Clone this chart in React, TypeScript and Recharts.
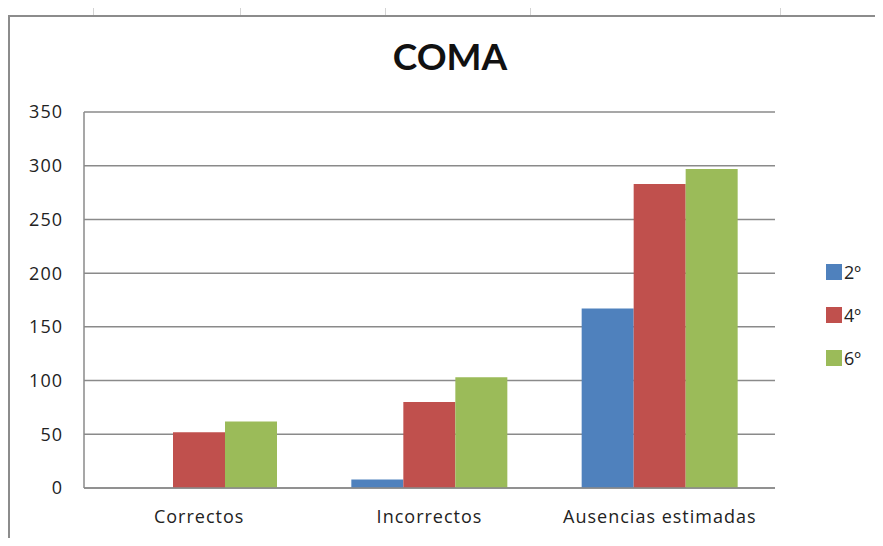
import React from "react";
import {
  BarChart,
  Bar,
  XAxis,
  YAxis,
  CartesianGrid,
  Legend,
} from "recharts";

// categories and series
const categories = ["Correctos", "Incorrectos", "Ausencias estimadas"];
const seg2 = [0, 8, 167];
const seg4 = [52, 80, 283];
const seg6 = [62, 103, 297];
const yTicks = [0, 50, 100, 150, 200, 250, 300, 350];

const data = categories.map((name, i) => ({
  name,
  s2: seg2[i],
  s4: seg4[i],
  s6: seg6[i],
}));

const FONT = "'Open Sans', Lato, sans-serif";
const TITLE_FONT = "Lato, 'Open Sans', sans-serif";

// little squares + label, like the Excel legend
const LegendBox = (props: any) => {
  const { payload } = props;
  return (
    <div style={{ fontFamily: FONT, fontSize: 18, color: "#222" }}>
      {payload.map((p: any) => (
        <div
          key={p.value}
          style={{ display: "flex", alignItems: "center", height: 43 }}
        >
          <span
            style={{
              width: 16,
              height: 16,
              background: p.color,
              display: "inline-block",
              marginRight: 2,
            }}
          />
          <span>{p.value}</span>
        </div>
      ))}
    </div>
  );
};

const tickStyle = {
  fill: "#222",
  fontSize: 18,
  fontFamily: FONT,
  letterSpacing: 1,
};

const App = () => {
  return (
    <div
      style={{
        position: "relative",
        width: 883,
        height: 546,
        margin: -8,
        overflow: "hidden",
        background: "#fff",
      }}
    >
      {/* spreadsheet cells behind the chart */}
      {[93, 240, 385, 530, 780].map((x) => (
        <div
          key={x}
          style={{
            position: "absolute",
            left: x,
            top: 0,
            width: 1,
            height: 16,
            background: "#d4d4d4",
          }}
        />
      ))}
      {[54, 109, 148, 187, 225, 263, 302, 341, 380, 418, 457, 495, 534].map(
        (y) => (
          <div
            key={y}
            style={{
              position: "absolute",
              left: 0,
              top: y,
              width: 8,
              height: 1,
              background: "#d4d4d4",
            }}
          />
        )
      )}
      {/* chart frame */}
      <div
        style={{
          position: "absolute",
          left: 8,
          top: 15,
          width: 900,
          height: 560,
          border: "2px solid #8c8c8c",
          background: "#fff",
        }}
      />
      <div
        style={{
          position: "absolute",
          left: 450,
          top: 33,
          transform: "translateX(-50%)",
          fontFamily: TITLE_FONT,
          fontWeight: 700,
          fontSize: 37,
          color: "#111",
          whiteSpace: "nowrap",
        }}
      >
        COMA
      </div>
      <div style={{ position: "absolute", left: 0, top: 0 }}>
        <BarChart
          width={883}
          height={546}
          data={data}
          margin={{ top: 112, right: 108, left: 24, bottom: 28 }}
          barCategoryGap={37}
          barGap={0}
        >
          <CartesianGrid
            vertical={false}
            stroke="#8a8a8a"
            strokeWidth={1.5}
          />
          <XAxis
            dataKey="name"
            height={30}
            tickLine={false}
            axisLine={{ stroke: "#8a8a8a", strokeWidth: 1.5 }}
            tickMargin={16}
            tick={tickStyle}
            interval={0}
          />
          <YAxis
            width={60}
            domain={[0, 350]}
            ticks={yTicks}
            tickLine={false}
            axisLine={{ stroke: "#8a8a8a", strokeWidth: 1.5 }}
            tickMargin={15}
            tick={tickStyle}
          />
          <Legend
            layout="vertical"
            align="center"
            verticalAlign="middle"
            content={<LegendBox />}
            wrapperStyle={{ left: 826, top: 250, width: 60 }}
          />
          <Bar dataKey="s2" name="2º" fill="#4F81BD" isAnimationActive={false} />
          <Bar dataKey="s4" name="4º" fill="#C0504D" isAnimationActive={false} />
          <Bar dataKey="s6" name="6º" fill="#9BBB59" isAnimationActive={false} />
        </BarChart>
      </div>
    </div>
  );
};

export default App;
